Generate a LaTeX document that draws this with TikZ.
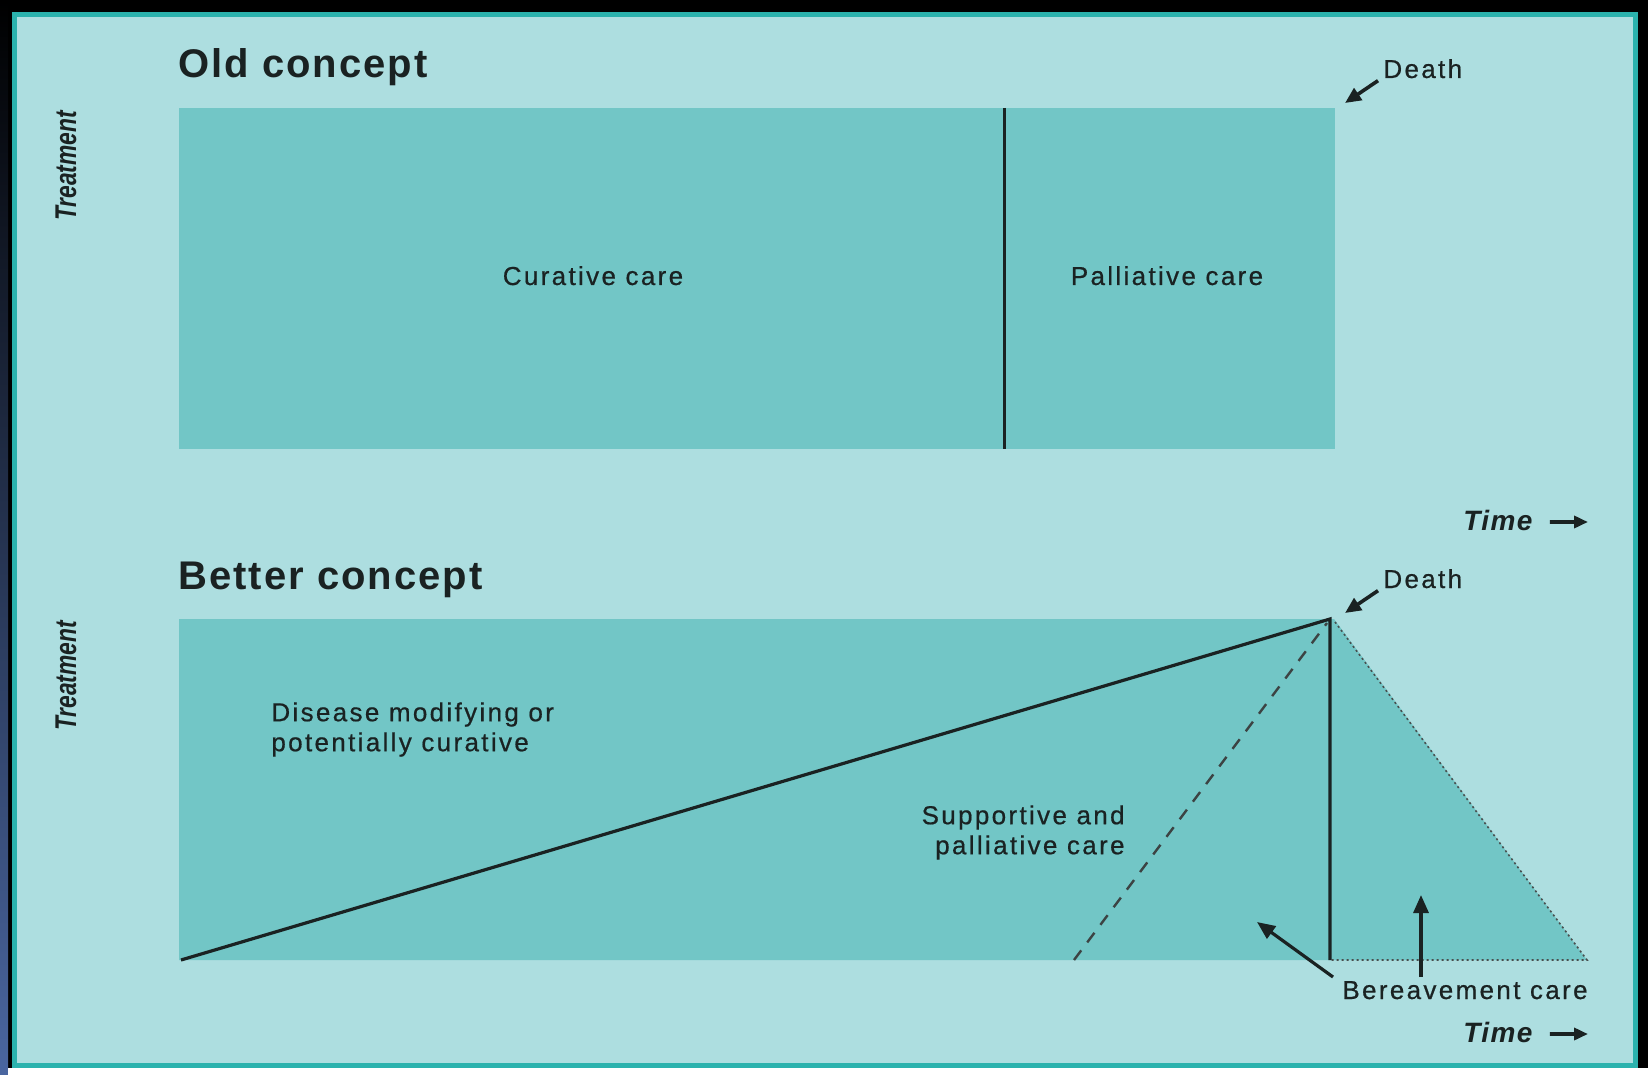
\documentclass[tikz,border=0pt]{standalone}
\usepackage{fontspec}
\usepackage{graphicx}
\setmainfont{Liberation Sans}
\newfontfamily\lblfont[LetterSpace=9,FakeBold=0.6]{Liberation Sans}
\newfontfamily\ttlfont[LetterSpace=5]{Liberation Sans}
\usetikzlibrary{arrows.meta}
\definecolor{bgc}{HTML}{ADDEE0}
\definecolor{boxc}{HTML}{72C6C6}
\definecolor{framec}{HTML}{2BB2AD}
\definecolor{inkc}{HTML}{1A2222}
\definecolor{leftblue}{HTML}{4A66A0}
\begin{document}
\begin{tikzpicture}[x=0.5pt,y=-0.5pt,
  lbl/.style={font=\lblfont\fontsize{13}{15}\selectfont, text=inkc, inner sep=0pt},
  ttl/.style={font=\ttlfont\bfseries\fontsize{20}{23}\selectfont, text=inkc, anchor=base west, inner sep=0pt},
  timelbl/.style={font=\ttlfont\bfseries\itshape\fontsize{14}{16}\selectfont, text=inkc, anchor=base west, inner sep=0pt},
  treatlbl/.style={font=\bfseries\itshape\fontsize{15}{17}\selectfont, text=inkc, rotate=90, inner sep=0pt},
  solidline/.style={draw=inkc, line width=1.6pt, line join=miter},
  dashline/.style={draw=inkc!85, line width=1.2pt, dash pattern=on 6pt off 5pt},
  dotline/.style={draw=inkc!80, line width=0.8pt, dash pattern=on 1pt off 1.5pt},
  smallptr/.style={draw=inkc, line width=1.8pt, -{Triangle[length=8pt,width=7pt]}},
  bigptr/.style={draw=inkc, line width=1.6pt, -{Triangle[length=9pt,width=7.5pt]}},
  timeptr/.style={draw=inkc, line width=1.8pt, -{Triangle[length=7pt,width=6pt]}}
]
\useasboundingbox (0,0) rectangle (1648,1075);
% screen surround
\fill[black] (0,0) rectangle (1648,1075);
\shade[top color=black, middle color=black!60!leftblue, bottom color=leftblue] (0,0) rectangle (8,1075);
\fill[white] (8,1068) rectangle (1648,1075);
% frame
\draw[framec, line width=2.5pt, fill=bgc] (14.5,14.5) rectangle (1635.5,1065.5);

% ---------- Old concept ----------
\node[ttl] (oldtitle) at (178,78) {Old concept};
\node[treatlbl] (treat1) at (66,166) {\scalebox{0.76}[1]{Treatment}};
\coordinate (oTL) at (179,108);
\coordinate (oBR) at (1335,449);
\fill[boxc] (oTL) rectangle (oBR);
\coordinate (divtop) at (1004,108);
\coordinate (divbot) at (1004,449);
\draw[solidline, line width=1.5pt] (divtop) -- (divbot);
\node[lbl, anchor=base] (cur) at (593,285) {Curative care};
\node[lbl, anchor=base] (pal) at (1167,285) {Palliative care};
\node[lbl, anchor=base west] (death1) at (1383,78) {Death};
\coordinate (dtip1) at (1345,103);
\draw[smallptr] ([shift={(-5,2)}]death1.south west) -- (dtip1);
\node[timelbl] (time1) at (1463,530) {Time};
\coordinate (tend1) at (1588,522);
\draw[timeptr] ([shift={(17,2)}]time1.east) -- (tend1);

% ---------- Better concept ----------
\node[ttl] (bettertitle) at (178,589) {Better concept};
\node[treatlbl] (treat2) at (66,676) {\scalebox{0.76}[1]{Treatment}};
\coordinate (bTL) at (179,619);
\coordinate (apex) at (1330,619);
\coordinate (bBR) at (1330,960);
\coordinate (bBL) at (179,960);
\coordinate (tri) at (1587,960);
\coordinate (dstart) at (181,960);
\coordinate (dashstart) at (1074,960);
\fill[boxc] (bTL) -- (apex) -- (1334,619) -- (tri) -- (bBL) -- cycle;
\draw[dashline] (dashstart) -- ([shift={(-3,4)}]apex);
\draw[dotline] ([shift={(5,3)}]apex) -- (tri) -- (bBR);
\draw[solidline] (dstart) -- (apex) -- (bBR);
\node[lbl, anchor=north west, align=left] (dis) at (271,702) {Disease modifying or\\potentially curative};
\node[lbl, anchor=north east, align=right] (sup) at (1125,805) {Supportive and\\palliative care};
\node[lbl, anchor=base west] (death2) at (1383,588) {Death};
\coordinate (dtip2) at (1345,613);
\draw[smallptr] ([shift={(-5,2)}]death2.south west) -- (dtip2);
\node[lbl, anchor=base west] (ber) at (1342,999) {Bereavement care};
\coordinate (btip1) at (1257,922);
\coordinate (btip2) at (1421,895);
\draw[bigptr] ([shift={(-9,-22)}]ber.base west) -- (btip1);
\draw[bigptr] ([shift={(79,-22)}]ber.base west) -- (btip2);
\node[timelbl] (time2) at (1463,1042) {Time};
\coordinate (tend2) at (1588,1034);
\draw[timeptr] ([shift={(17,2)}]time2.east) -- (tend2);
\end{tikzpicture}
\end{document}
